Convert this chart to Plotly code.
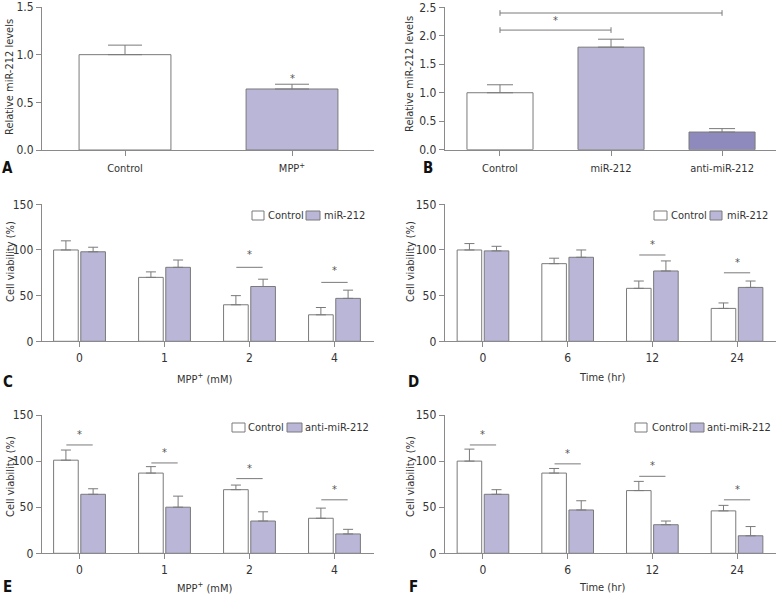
import plotly.graph_objects as go

W, H = 779, 597
FONT = "Liberation Sans Narrow, DejaVu Sans Condensed, Roboto Condensed, Roboto, sans-serif"
WHITE = "#ffffff"
PURPLE = "#b9b6d8"
DARK = "#8f8abd"
EDGE = "#7a7a7a"
AXIS = "#8a8a8a"
TXT = "#333333"

# ---------------- data ----------------
# Panel A
a_cats = ["Control", "MPP<sup>+</sup>"]
a_vals = [1.0, 0.64]
a_err = [0.10, 0.05]
a_star = [None, 0.75]

# Panel B
b_cats = ["Control", "miR-212", "anti-miR-212"]
b_vals = [1.0, 1.80, 0.31]
b_err = [0.14, 0.14, 0.06]

# Panel C (MPP+ dose, miR-212)
c_cats = ["0", "1", "2", "4"]
c_ctrl = [100, 70, 40, 29]
c_ctrl_err = [10, 6, 10, 8]
c_mir = [98, 81, 60, 47]
c_mir_err = [5, 8, 8, 9]
c_sig_line = [None, None, 81, 64.5]
c_sig_star = [None, None, 95, 78]

# Panel D (time, miR-212)
d_cats = ["0", "6", "12", "24"]
d_ctrl = [100, 85, 58, 36]
d_ctrl_err = [7, 6, 8, 6]
d_mir = [99, 92, 77, 59]
d_mir_err = [5, 8, 11, 7]
d_sig_line = [None, None, 94.5, 75]
d_sig_star = [None, None, 105.5, 86]

# Panel E (MPP+ dose, anti-miR-212)
e_cats = ["0", "1", "2", "4"]
e_ctrl = [101, 87, 69, 38]
e_ctrl_err = [11, 7, 5, 11]
e_anti = [64, 50, 35, 21]
e_anti_err = [6, 12, 10, 5]
e_sig_line = [117.5, 98, 81, 58]
e_sig_star = [129, 109, 92, 69]

# Panel F (time, anti-miR-212)
f_cats = ["0", "6", "12", "24"]
f_ctrl = [100, 87, 68, 46]
f_ctrl_err = [13, 5, 10, 6]
f_anti = [64, 47, 31, 19]
f_anti_err = [5, 10, 4, 10]
f_sig_line = [117.5, 97, 83.5, 58]
f_sig_star = [129, 108, 95, 69]


def px(x):
    return x / W


def py(y):
    return 1 - y / H


fig = go.Figure()
shapes = []
annots = []


def err(arr, w):
    return dict(type="data", array=arr, arrayminus=[0] * len(arr), symmetric=False,
                color=EDGE, thickness=1, width=w)


# A
fig.add_trace(go.Bar(x=a_cats, y=a_vals, width=0.55,
                     marker=dict(color=[WHITE, PURPLE], line=dict(color=EDGE, width=1)),
                     error_y=err(a_err, 17), xaxis="x", yaxis="y", showlegend=False))
# B
fig.add_trace(go.Bar(x=b_cats, y=b_vals, width=0.595,
                     marker=dict(color=[WHITE, PURPLE, DARK], line=dict(color=EDGE, width=1)),
                     error_y=err(b_err, 13), xaxis="x2", yaxis="y2", showlegend=False))

grouped = [
    ("x3", "y3", c_cats, c_ctrl, c_ctrl_err, c_mir, c_mir_err, c_sig_line, c_sig_star),
    ("x4", "y4", d_cats, d_ctrl, d_ctrl_err, d_mir, d_mir_err, d_sig_line, d_sig_star),
    ("x5", "y5", e_cats, e_ctrl, e_ctrl_err, e_anti, e_anti_err, e_sig_line, e_sig_star),
    ("x6", "y6", f_cats, f_ctrl, f_ctrl_err, f_anti, f_anti_err, f_sig_line, f_sig_star),
]
BW = 0.29
GAP = 0.03
for xa, ya, cats, v1, e1, v2, e2, sl, ss in grouped:
    fig.add_trace(go.Bar(x=cats, y=v1, width=BW, offset=-BW - GAP / 2,
                         marker=dict(color=WHITE, line=dict(color=EDGE, width=1)),
                         error_y=err(e1, 5), xaxis=xa, yaxis=ya, showlegend=False))
    fig.add_trace(go.Bar(x=cats, y=v2, width=BW, offset=GAP / 2,
                         marker=dict(color=PURPLE, line=dict(color=EDGE, width=1)),
                         error_y=err(e2, 5), xaxis=xa, yaxis=ya, showlegend=False))
    for i, (l, s) in enumerate(zip(sl, ss)):
        if l is None:
            continue
        shapes.append(dict(type="line", xref=xa, yref=ya, x0=i - 0.155, x1=i + 0.155,
                           y0=l, y1=l, line=dict(color=EDGE, width=1)))
        annots.append(dict(xref=xa, yref=ya, x=i, y=s, text="*", showarrow=False,
                           font=dict(size=11, color="#555", family=FONT), yanchor="middle"))

# star on A
for i, s in enumerate(a_star):
    if s is not None:
        annots.append(dict(xref="x", yref="y", x=i, y=s, text="*", showarrow=False,
                           font=dict(size=11, color="#555", family=FONT), yanchor="middle"))

# brackets on B
b_brackets = [(0, 1, 2.10, 2.27), (0, 2, 2.40, 2.62)]
for i0, i1, yl, ys in b_brackets:
    shapes.append(dict(type="line", xref="x2", yref="y2", x0=i0, x1=i1, y0=yl, y1=yl,
                       line=dict(color=EDGE, width=1)))
    for xi in (i0, i1):
        shapes.append(dict(type="line", xref="x2", yref="y2", x0=xi, x1=xi, y0=yl - 0.05,
                           y1=yl + 0.05, line=dict(color=EDGE, width=1)))
    annots.append(dict(xref="x2", yref="y2", x=(i0 + i1) / 2, y=ys, text="*", showarrow=False,
                       font=dict(size=11, color="#555", family=FONT), yanchor="middle"))

TICKFONT = dict(family=FONT, size=12, color=TXT)
CATFONT = dict(family=FONT, size=11, color=TXT)


def xaxis(dom, rng, anchor, font=TICKFONT, standoff=0):
    return dict(domain=[px(dom[0]), px(dom[1])], range=rng, anchor=anchor, type="category",
                showline=True, linecolor=AXIS, linewidth=1, ticks="outside", ticklen=5,
                tickcolor=AXIS, tickfont=font, showgrid=False, zeroline=False,
                fixedrange=True, automargin=False, ticklabelstandoff=standoff)


def yaxis(dom, rng, anchor, tv, fmt):
    return dict(domain=[py(dom[1]), py(dom[0])], range=rng, anchor=anchor, showline=True,
                linecolor=AXIS, linewidth=1, ticks="outside", ticklen=5, tickcolor=AXIS,
                tickfont=TICKFONT, showgrid=False, zeroline=False, tickvals=tv,
                tickformat=fmt, fixedrange=True, automargin=False)


LX = (42, 374)
RX = (444.7, 776)
fig.update_layout(
    template="none",
    xaxis=xaxis(LX, [-0.497, 1.491], "y", CATFONT, 3),
    yaxis=yaxis((7, 150), [0, 1.5], "x", [0, 0.5, 1.0, 1.5], ".1f"),
    xaxis2=xaxis(RX, [-0.498, 2.486], "y2", CATFONT, 3),
    yaxis2=yaxis((7.3, 149.7), [0, 2.5], "x2", [0, 0.5, 1, 1.5, 2, 2.5], ".1f"),
    xaxis3=xaxis((41.7, 374), [-0.445, 3.465], "y3"),
    yaxis3=yaxis((204.3, 341.3), [0, 150], "x3", [0, 50, 100, 150], "d"),
    xaxis4=xaxis(RX, [-0.452, 3.46], "y4"),
    yaxis4=yaxis((204.3, 341.3), [0, 150], "x4", [0, 50, 100, 150], "d"),
    xaxis5=xaxis((41.7, 374), [-0.445, 3.465], "y5"),
    yaxis5=yaxis((415, 553.3), [0, 150], "x5", [0, 50, 100, 150], "d"),
    xaxis6=xaxis(RX, [-0.452, 3.46], "y6"),
    yaxis6=yaxis((415, 553.3), [0, 150], "x6", [0, 50, 100, 150], "d"),
)


# paper texts
def ptext(x, y, text, size=11, angle=0, bold=False, xanchor="center", color=TXT):
    annots.append(dict(xref="paper", yref="paper", x=px(x), y=py(y),
                       text=("<b>%s</b>" % text) if bold else text,
                       showarrow=False, textangle=angle, xanchor=xanchor, yanchor="middle",
                       font=dict(family=FONT, size=size, color=color)))


ptext(10, 77, "Relative miR-212 levels", 11, -90)
ptext(410, 74, "Relative miR-212 levels", 11, -90)
ptext(10, 262, "Cell viability (%)", 11, -90)
ptext(410, 262, "Cell viability (%)", 11, -90)
ptext(10, 477, "Cell viability (%)", 11, -90)
ptext(410, 477, "Cell viability (%)", 11, -90)

ptext(204, 378, "MPP<sup>+</sup> (mM)", 11)
ptext(602, 377, "Time (hr)", 11)
ptext(204, 587, "MPP<sup>+</sup> (mM)", 11)
ptext(602, 587, "Time (hr)", 11)

for lx, ly, lt in [(8, 168, "A"), (428, 168, "B"), (8, 382, "C"), (414, 382, "D"),
                   (8, 587, "E"), (414, 587, "F")]:
    ptext(lx, ly, lt, 15, 0, True, color="#111")

# legends (manual)
legends = [
    (211, 220, [(252, 264, WHITE, 266, "Control"), (306, 320, PURPLE, 322, "miR-212")]),
    (211, 220, [(654, 667, WHITE, 669, "Control"), (710, 722, PURPLE, 725, "miR-212")]),
    (423, 432, [(232, 245, WHITE, 246, "Control"), (287, 302, PURPLE, 303, "anti-miR-212")]),
    (423, 432, [(635, 647, WHITE, 650, "Control"), (690, 704, PURPLE, 705, "anti-miR-212")]),
]
for yt, yb, items in legends:
    for bx0, bx1, col, tx, lab in items:
        shapes.append(dict(type="rect", xref="paper", yref="paper", x0=px(bx0), x1=px(bx1),
                           y0=py(yb), y1=py(yt), fillcolor=col, line=dict(color=EDGE, width=1)))
        ptext(tx, (yt + yb) / 2, lab, 11, 0, False, xanchor="left")

fig.update_layout(
    width=W, height=H, margin=dict(l=0, r=0, t=0, b=0, autoexpand=False),
    paper_bgcolor="white", plot_bgcolor="white",
    barmode="overlay", shapes=shapes, annotations=annots,
    font=dict(family=FONT, color=TXT),
)

fig.write_html("out.html", config={"displayModeBar": False, "staticPlot": True},
               post_script="document.body.style.margin='0';document.body.style.padding='0';")
